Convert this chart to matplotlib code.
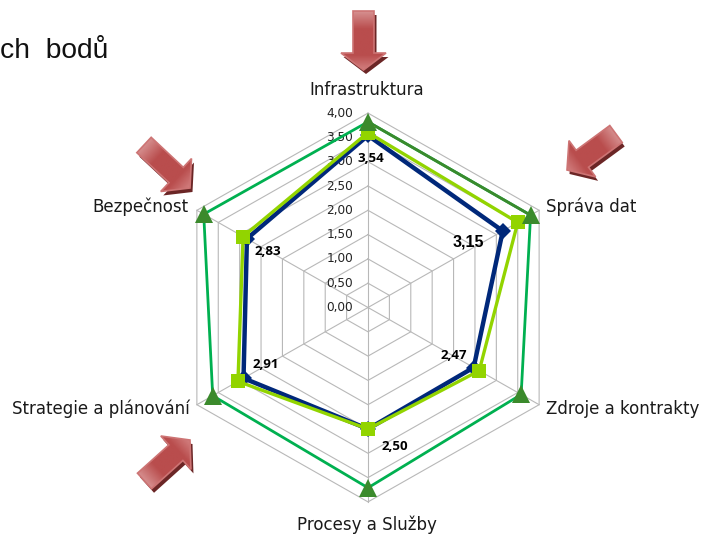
import numpy as np
import matplotlib
matplotlib.use('Agg')
import matplotlib.pyplot as plt
from matplotlib.colors import LinearSegmentedColormap
from matplotlib.patches import Polygon

categories = ['Infrastruktura', 'Správa dat', 'Zdroje a kontrakty', 'Procesy a Služby',
              'Strategie a plánování', 'Bezpečnost']
levels = [0.5, 1.0, 1.5, 2.0, 2.5, 3.0, 3.5, 4.0]
level_labels = ['0,50', '1,00', '1,50', '2,00', '2,50', '3,00', '3,50', '4,00']
navy_values = [3.54, 3.15, 2.47, 2.50, 2.91, 2.83]
navy_labels = ['3,54', '3,15', '2,47', '2,50', '2,91', '2,83']
lime_values = [3.60, 3.50, 2.60, 2.50, 3.04, 2.92]
green_values = [3.82, 3.80, 3.58, 3.71, 3.63, 3.84]

W, H = 714, 534
CX, CY = 368, 307.5
UX, UY = 49.4, 48.6

angles = np.arange(6) * np.pi / 3


def to_xy(values):
    v = np.asarray(values)
    return v * np.sin(angles), v * np.cos(angles)


def closed(a):
    return np.append(a, a[0])


fig = plt.figure(figsize=(W / 100, H / 100), dpi=100)
ax = fig.add_axes([0, 0, 1, 1])
ax.set_xlim(-CX / UX, (W - CX) / UX)
ax.set_ylim(-(H - CY) / UY, CY / UY)
ax.axis('off')

# grid
grid_col = '#b8b8b8'
for lev in levels:
    x, y = to_xy([lev] * 6)
    ax.plot(closed(x), closed(y), color=grid_col, lw=0.8, zorder=1)
x, y = to_xy([4.0] * 6)
for i in range(6):
    ax.plot([0, x[i]], [0, y[i]], color=grid_col, lw=0.8, zorder=1)

ax.text(-15 / UX, 0, '0,00', ha='right', va='center', fontsize=8.7, color='#222222', zorder=2)
for lev, lab in zip(levels, level_labels):
    ax.text(-15 / UX, lev, lab, ha='right', va='center', fontsize=8.7, color='#222222', zorder=2)

# series
x, y = to_xy(green_values)
ax.plot(closed(x), closed(y), color='#00b050', lw=2.0, zorder=3, solid_joinstyle='miter')
ax.plot(x[:2], y[:2], color='#3b8a2c', lw=2.0, zorder=3)
ax.plot(x, y, ls='none', marker='^', ms=12.5, color='#3b8a2c', mew=0, zorder=6)

x, y = to_xy(navy_values)
ax.plot(closed(x), closed(y), color='#00287a', lw=3.2, zorder=4, solid_joinstyle='miter')
ax.plot(x, y, ls='none', marker='D', ms=8.5, color='#00287a', mew=0, zorder=4)

x, y = to_xy(lime_values)
ax.plot(closed(x), closed(y), color='#92d400', lw=2.4, zorder=5, solid_joinstyle='miter')
ax.plot(x, y, ls='none', marker='s', ms=10, color='#92d400', mew=0, zorder=5)

# data labels, offset from the navy points
label_offsets = [(3, -23), (-34, -11), (-20, 12), (27, -18), (22, 14), (21, -13)]
nx, ny = to_xy(navy_values)
for i, lab in enumerate(navy_labels):
    fam = 'Liberation Sans' if lab == '3,15' else 'Open Sans'
    size = 11.5 if lab == '3,15' else 9.5
    ax.annotate(lab, (nx[i], ny[i]), xytext=label_offsets[i], textcoords='offset pixels',
                ha='center', va='center', fontsize=size, fontweight='bold',
                family=fam, color='black', zorder=7)

# overlay in pixel units for category labels, title fragment and arrows
ov = fig.add_axes([0, 0, 1, 1])
ov.set_xlim(0, W)
ov.set_ylim(H, 0)
ov.axis('off')
ov.patch.set_alpha(0)

lab_col = '#1a1a1a'
lab_size = 12
ov.text(367, 90, categories[0], ha='center', va='center', fontsize=lab_size, color=lab_col)
ov.text(546, 207, categories[1], ha='left', va='center', fontsize=lab_size, color=lab_col)
ov.text(546, 409, categories[2], ha='left', va='center', fontsize=lab_size, color=lab_col)
ov.text(367, 525, categories[3], ha='center', va='center', fontsize=lab_size, color=lab_col)
ov.text(190, 409, categories[4], ha='right', va='center', fontsize=lab_size, color=lab_col)
ov.text(189, 207, categories[5], ha='right', va='center', fontsize=lab_size, color=lab_col)

ov.text(0, 51, 'ch  bodů', ha='left', va='center', fontsize=20.3, family='Liberation Sans', color='#111111')

arrow_cmap = LinearSegmentedColormap.from_list(
    'arrow', [(0, '#d68f8f'), (0.3, '#b94d4d'), (0.75, '#b94d4d'), (1, '#d27f7f')])


def block_arrow(tail, tip, shaft_w=21, head_w=45, head_l=19):
    tail = np.array(tail, float)
    tip = np.array(tip, float)
    d = (tip - tail) / np.linalg.norm(tip - tail)
    n = np.array([-d[1], d[0]])
    neck = tip - d * head_l
    pts = np.array([tail + n * shaft_w / 2, neck + n * shaft_w / 2, neck + n * head_w / 2, tip,
                    neck - n * head_w / 2, neck - n * shaft_w / 2, tail - n * shaft_w / 2])
    # shadow
    ov.add_patch(Polygon(pts + [2.5, 4], closed=True, fc='#6b2626', ec='none', zorder=8))
    # gradient runs along the arrow
    xx, yy = np.meshgrid(np.linspace(pts[:, 0].min(), pts[:, 0].max(), 80),
                         np.linspace(pts[:, 1].min(), pts[:, 1].max(), 80))
    t = ((xx - tail[0]) * d[0] + (yy - tail[1]) * d[1]) / np.linalg.norm(tip - tail)
    im = ov.imshow(t, cmap=arrow_cmap, vmin=0, vmax=1, aspect='auto', zorder=9,
                   extent=[xx.min(), xx.max(), yy.max(), yy.min()], origin='upper')
    outline = Polygon(pts, closed=True, fc='none', ec='#cd7474', lw=1.2, zorder=10)
    ov.add_patch(outline)
    im.set_clip_path(outline)


block_arrow((363.5, 11), (363.5, 70), head_l=17)
block_arrow((616, 134), (567, 170))
block_arrow((144, 145), (190, 188))
block_arrow((144.5, 481), (190, 440))

ov.set_xlim(0, W)
ov.set_ylim(H, 0)

fig.savefig('out.png', dpi=100)
